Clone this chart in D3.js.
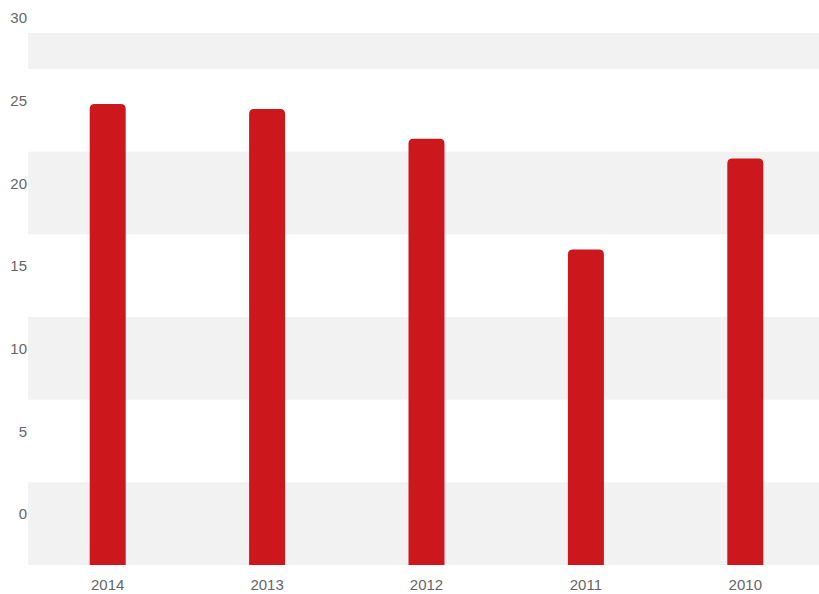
<!DOCTYPE html>
<html>
<head>
<meta charset="utf-8">
<script src="https://cdn.jsdelivr.net/npm/d3@7"></script>
<style>
  html, body { margin: 0; padding: 0; background: #fff; }
  svg { display: block; }
  text { font-family: "Liberation Sans", Arial, sans-serif; fill: #666; }
</style>
</head>
<body>
<svg id="chart" width="819" height="594"></svg>
<script>
// Data
const years = ["2014", "2013", "2012", "2011", "2010"];
const values = [24.8, 24.5, 22.7, 16.0, 21.5];
const yTicks = [0, 5, 10, 15, 20, 25, 30];

const W = 819, H = 594;
const plot = { left: 28, right: 825, top: 33, bottom: 565 };
const labelLift = 51;     // tick labels sit this far above their grid line

const svg = d3.select("#chart");

const x = d3.scaleBand()
  .domain(years)
  .range([plot.left, plot.right])
  .paddingInner(0)
  .paddingOuter(0);

// value scale for the labels; grid lines lie labelLift px below each label
const y = d3.scaleLinear().domain([0, 30]).range([514, 18]);
const grid = v => y(v) + labelLift;

// alternating bands
const bandStarts = [0, 10, 20, 30];
svg.append("g")
  .selectAll("rect")
  .data(bandStarts)
  .join("rect")
  .attr("x", plot.left)
  .attr("width", W - plot.left)
  .attr("y", d => Math.max(plot.top, grid(d + 5)))
  .attr("height", d => grid(d) - Math.max(plot.top, grid(d + 5)))
  .attr("fill", "#f2f2f2");

// bars with rounded top corners
const bw = 36, r = 5;
function barPath(cx, top, bottom) {
  const x0 = cx - bw / 2, x1 = cx + bw / 2;
  return `M${x0},${bottom}V${top + r}Q${x0},${top} ${x0 + r},${top}` +
         `H${x1 - r}Q${x1},${top} ${x1},${top + r}V${bottom}Z`;
}
svg.append("g")
  .selectAll("path")
  .data(values)
  .join("path")
  .attr("d", (d, i) => barPath(x(years[i]) + x.bandwidth() / 2, y(d), plot.bottom))
  .attr("fill", "#cc171d");

// y axis labels
const yAxis = d3.axisLeft(y).tickValues(yTicks).tickSize(0).tickPadding(0);
const gy = svg.append("g").attr("transform", "translate(27,0)").call(yAxis);
gy.select(".domain").remove();
gy.selectAll("text")
  .attr("font-size", 15)
  .attr("font-family", "Liberation Sans, Arial, sans-serif")
  .attr("fill", "#666");

// x axis labels
const xAxis = d3.axisBottom(x).tickSize(0).tickPadding(0);
const gx = svg.append("g").attr("transform", `translate(0,${plot.bottom + 14})`).call(xAxis);
gx.select(".domain").remove();
gx.selectAll("text")
  .attr("font-size", 15)
  .attr("font-family", "Liberation Sans, Arial, sans-serif")
  .attr("fill", "#666");
</script>
</body>
</html>
